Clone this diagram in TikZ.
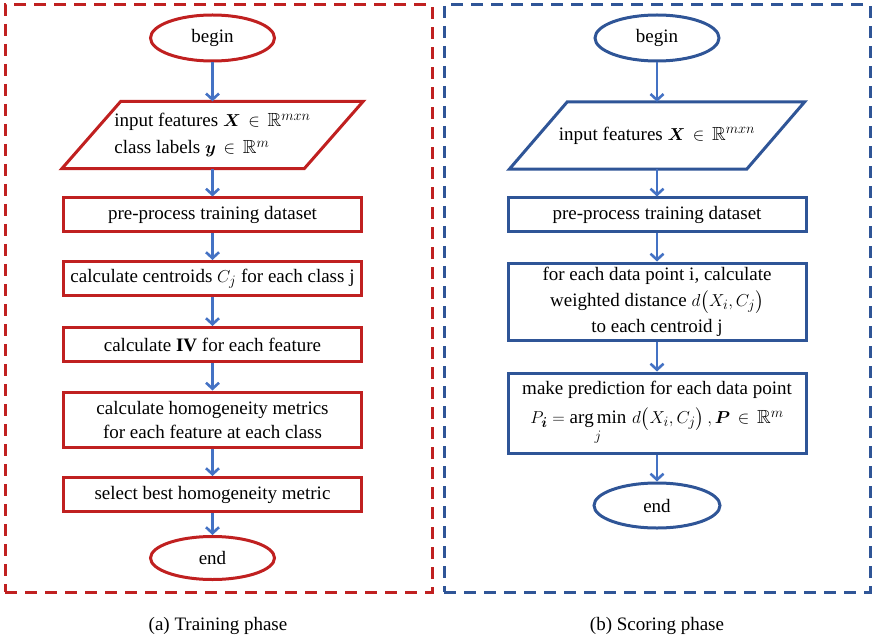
\documentclass[tikz,border=0pt]{standalone}
\usepackage{amsmath,amssymb}
\usepackage{fontspec}
\setmainfont{Liberation Serif}
\usepackage{tikz}
\usetikzlibrary{
    positioning,
    arrows.meta,
    shapes.geometric
}
\definecolor{trainred}{RGB}{192,32,32}
\definecolor{scoreblue}{RGB}{47,85,151}
\definecolor{arrowblue}{RGB}{68,114,196}

\begin{document}
\begin{tikzpicture}[
  x=1pt, y=-1pt,
  font=\fontsize{19}{24}\selectfont,
  arrow/.style={-{Straight Barb[length=6pt,width=13pt]}, line width=2.6pt, draw=arrowblue},
  panel/.style={draw, line width=3pt, dash pattern=on 12pt off 8pt, rectangle,
                minimum height=587pt, inner sep=0pt},
  terminal/.style={draw, ellipse, line width=3pt, minimum width=124pt,
                   minimum height=46pt, inner sep=0pt},
  stepbox/.style={draw, rectangle, line width=3pt, minimum width=298pt,
                  minimum height=34pt, align=center, inner sep=2pt},
  inout/.style={rectangle, minimum height=67pt, inner sep=2pt},
  slant/.style={line width=3pt, line join=miter},
  caption/.style={font=\fontsize{19}{22}\selectfont}
]
\useasboundingbox (0,0) rectangle (877,644);

% Panels
\node[panel, draw=trainred, minimum width=427pt] (trainpanel) at (218.5, 298.5) {};
\node[panel, draw=scoreblue, minimum width=426pt] (scorepanel) at (657, 298.5) {};

% Training phase
\node[terminal, draw=trainred] (tbegin) at (212.5, 38) {begin};
\node[inout, minimum width=242pt, align=left, font=\fontsize{19}{27}\selectfont]
  (tinput) at (212.5, 135) {input features $\boldsymbol{X}\,\in\,\mathbb{R}^{mxn}$\\class labels $\boldsymbol{y}\,\in\,\mathbb{R}^{m}$};
\draw[slant, trainred] ([xshift=29.5pt]tinput.north west) -- ([xshift=29.5pt]tinput.north east)
  -- ([xshift=-29.5pt]tinput.south east) -- ([xshift=-29.5pt]tinput.south west) -- cycle;
\node[stepbox, draw=trainred] (tprep) at (212.5, 215) {pre-process training dataset};
\node[stepbox, draw=trainred] (centroid) at (212.5, 278.5) {calculate centroids $C_j$ for each class j};
\node[stepbox, draw=trainred] (ivcalc) at (212.5, 344.5) {calculate \textbf{IV} for each feature};
\node[stepbox, draw=trainred, minimum height=55pt] (homog) at (212.5, 419.5) {calculate homogeneity metrics\\for each feature at each class};
\node[stepbox, draw=trainred] (select) at (212.5, 494.5) {select best homogeneity metric};
\node[terminal, draw=trainred, minimum height=43pt] (tend) at (212.5, 558) {end};

% Scoring phase
\node[terminal, draw=scoreblue] (sbegin) at (657, 38) {begin};
\node[inout, minimum width=237pt] (sinput) at (657, 135.5) {input features $\boldsymbol{X}\,\in\,\mathbb{R}^{mxn}$};
\draw[slant, scoreblue] ([xshift=29pt]sinput.north west) -- ([xshift=29pt]sinput.north east)
  -- ([xshift=-29pt]sinput.south east) -- ([xshift=-29pt]sinput.south west) -- cycle;
\node[stepbox, draw=scoreblue] (sprep) at (657, 215) {pre-process training dataset};
\node[stepbox, draw=scoreblue, minimum height=77pt, font=\fontsize{19}{26}\selectfont] (distance) at (657, 301.5)
  {for each data point i, calculate\\weighted distance $d\bigl(X_i, C_j\bigr)$\\to each centroid j};
\node[stepbox, draw=scoreblue, minimum height=80pt, font=\fontsize{19}{29}\selectfont] (predict) at (657, 413)
  {make prediction for each data point\\$P_{\boldsymbol{i}} = \operatorname*{arg\,min}\limits_{j}\, d\bigl(X_i, C_j\bigr)\,,\boldsymbol{P}\,\in\,\mathbb{R}^{m}$};
\node[terminal, draw=scoreblue, minimum width=126pt, minimum height=45pt] (send) at (657, 505.5) {end};

% Training flow
\draw[arrow] (tbegin) -- (tinput);
\draw[arrow] (tinput) -- (tprep);
\draw[arrow] (tprep) -- (centroid);
\draw[arrow] (centroid) -- (ivcalc);
\draw[arrow] (ivcalc) -- (homog);
\draw[arrow] (homog) -- (select);
\draw[arrow] (select) -- (tend);

% Scoring flow
\draw[arrow] (sbegin) -- (sinput);
\draw[arrow] (sinput) -- (sprep);
\draw[arrow] (sprep) -- (distance);
\draw[arrow] (distance) -- (predict);
\draw[arrow] (predict) -- (send);

% Captions
\node[caption] (traincap) at (218, 626) {(a) Training phase};
\node[caption] (scorecap) at (657, 626) {(b) Scoring phase};

\end{tikzpicture}
\end{document}
